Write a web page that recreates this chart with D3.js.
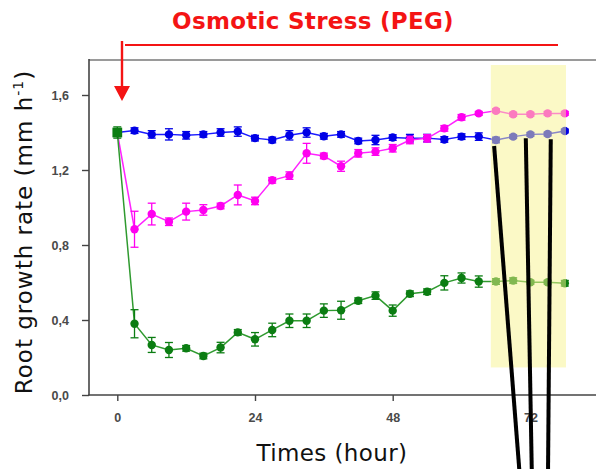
<!DOCTYPE html>
<html><head><meta charset="utf-8">
<script src="https://cdn.jsdelivr.net/npm/d3@7"></script>
<style>html,body{margin:0;padding:0;background:#fff;overflow:hidden}</style>
</head><body>
<svg id="chart" width="596" height="469"></svg>
<script>
// ---- data ----
const hours = [0,3,6,9,12,15,18,21,24,27,30,33,36,39,42,45,48,51,54,57,60,63,66,69,72,75,78];
const controlRate = [1.40,1.41,1.39,1.39,1.385,1.39,1.40,1.405,1.37,1.36,1.385,1.40,1.38,1.39,1.355,1.36,1.373,1.37,1.37,1.363,1.378,1.378,1.36,1.378,1.39,1.392,1.408];
const controlErr  = [0.02,0.015,0.02,0.03,0.02,0.015,0.02,0.025,0.015,0.015,0.025,0.025,0.015,0.015,0.015,0.025,0.015,0.02,0.02,0.015,0.015,0.02,0.015,0.01,0.01,0.01,0.01];
const mildRate = [1.40,0.884,0.965,0.924,0.978,0.987,1.008,1.067,1.035,1.145,1.17,1.289,1.275,1.22,1.289,1.298,1.316,1.36,1.369,1.422,1.481,1.502,1.516,1.497,1.497,1.502,1.502];
const mildErr  = [0.02,0.096,0.058,0.02,0.045,0.028,0.015,0.053,0.02,0.015,0.02,0.053,0.015,0.027,0.02,0.02,0.02,0.02,0.02,0.015,0.015,0.01,0.01,0.01,0.01,0.01,0.01];
const severeRate = [1.40,0.38,0.267,0.24,0.249,0.208,0.253,0.334,0.297,0.347,0.396,0.396,0.45,0.452,0.503,0.53,0.45,0.54,0.551,0.598,0.624,0.605,0.605,0.61,0.601,0.601,0.596];
const severeErr  = [0.03,0.075,0.04,0.04,0.015,0.015,0.028,0.015,0.036,0.036,0.036,0.036,0.036,0.048,0.015,0.02,0.03,0.015,0.015,0.038,0.027,0.03,0.015,0.015,0.01,0.01,0.015];
const yTickValues = [0,0.4,0.8,1.2,1.6];
const xTickValues = [0,24,48,72];
const titleText = "Osmotic Stress (PEG)";
const xTitle = "Times (hour)";
const yTitle = "Root growth rate (mm h";

// ---- drawing ----
const svg = d3.select("#chart");
const x = d3.scaleLinear().domain([0,72]).range([117.3,530.4]);
const y = d3.scaleLinear().domain([0,1.6]).range([395,95]);
const fontMain = "'Comic Sans MS','DejaVu Sans',sans-serif";

// frame
svg.append("line").attr("x1",89).attr("x2",596).attr("y1",60).attr("y2",60)
  .attr("stroke","#9a9a9a").attr("stroke-width",2);
svg.append("line").attr("x1",89).attr("x2",89).attr("y1",59).attr("y2",395.5)
  .attr("stroke","#444").attr("stroke-width",1.6);
svg.append("line").attr("x1",88.2).attr("x2",596).attr("y1",395).attr("y2",395)
  .attr("stroke","#444").attr("stroke-width",1.6);

// axes
const fmt = d => d3.format(".1f")(d).replace(".",",");
const yAxis = svg.append("g").attr("transform","translate(89,0)")
  .call(d3.axisLeft(y).tickValues(yTickValues).tickFormat(fmt).tickSize(7).tickPadding(13));
const xAxis = svg.append("g").attr("transform","translate(0,395)")
  .call(d3.axisBottom(x).tickValues(xTickValues).tickSize(6).tickPadding(12));
[yAxis,xAxis].forEach(g=>{
  g.select(".domain").remove();
  g.selectAll(".tick line").attr("stroke","#444").attr("stroke-width",1.4);
  g.selectAll(".tick text").attr("fill","#4a4a4a").attr("font-family","'Liberation Sans',Arial,sans-serif")
    .attr("font-size",12.5).attr("font-weight","bold");
});

// series
const series = [
  {vals:controlRate, err:controlErr, line:"#1a1aff", mark:"#0000e6"},
  {vals:mildRate, err:mildErr, line:"#ff22ff", mark:"#ff00f0"},
  {vals:severeRate, err:severeErr, line:"#2f9a2f", mark:"#0b7d12"}
];
const lineGen = d3.line().x(d=>x(d.t)).y(d=>y(d.v));
series.forEach((s,si)=>{
  const pts = hours.map((t,i)=>({t, v:s.vals[i], e:s.err[i]}));
  const g = svg.append("g");
  g.append("path").datum(pts).attr("d",lineGen).attr("fill","none")
    .attr("stroke",s.line).attr("stroke-width",1.5);
  const eb = g.selectAll(".eb").data(pts).enter().append("g").attr("stroke",s.mark).attr("stroke-width",1.3);
  eb.append("line").attr("x1",d=>x(d.t)).attr("x2",d=>x(d.t)).attr("y1",d=>y(d.v-d.e)).attr("y2",d=>y(d.v+d.e));
  eb.append("line").attr("x1",d=>x(d.t)-4).attr("x2",d=>x(d.t)+4).attr("y1",d=>y(d.v-d.e)).attr("y2",d=>y(d.v-d.e));
  eb.append("line").attr("x1",d=>x(d.t)-4).attr("x2",d=>x(d.t)+4).attr("y1",d=>y(d.v+d.e)).attr("y2",d=>y(d.v+d.e));
  g.selectAll(".pt").data(pts.slice(si===2?1:0)).enter().append("circle")
    .attr("cx",d=>x(d.t)).attr("cy",d=>y(d.v)).attr("r",4.2).attr("fill",s.mark);
  if(si===2){
    g.append("path").attr("d",d3.symbol(d3.symbolSquare,95)())
      .attr("transform",`translate(${x(pts[0].t)},${y(pts[0].v)})`).attr("fill",s.mark);
  }
});

// highlighted zone (translucent yellow over the last points)
svg.append("rect").attr("x",x(65.1)).attr("width",x(78.2)-x(65.1))
  .attr("y",y(1.76)).attr("height",y(0.147)-y(1.76))
  .attr("fill","#f8f38e").attr("opacity",0.5);

// black pointer lines
const pointers = [[65.68,1.328,70.12,-0.42],[71.2,1.369,72.25,-0.42],[75.55,1.364,75.07,-0.42]];
svg.selectAll(".ptr").data(pointers).enter().append("line")
  .attr("x1",d=>x(d[0])).attr("y1",d=>y(d[1])).attr("x2",d=>x(d[2])).attr("y2",d=>y(d[3]))
  .attr("stroke","#000").attr("stroke-width",4);

// red annotation
svg.append("text").attr("x",313).attr("y",29).attr("text-anchor","middle")
  .attr("font-family",fontMain).attr("font-weight","bold").attr("font-size",23)
  .attr("letter-spacing",0.3).attr("fill","#f41414").text(titleText);
svg.append("line").attr("x1",125).attr("x2",558).attr("y1",45).attr("y2",45)
  .attr("stroke","#f41414").attr("stroke-width",2.2);
svg.append("line").attr("x1",122).attr("x2",122).attr("y1",41).attr("y2",88)
  .attr("stroke","#f41414").attr("stroke-width",2.4);
svg.append("path").attr("d","M114,86 L130,86 L122,101 Z").attr("fill","#f41414");

// axis titles
svg.append("text").attr("x",332).attr("y",461).attr("text-anchor","middle")
  .attr("font-family",fontMain).attr("font-size",23).attr("letter-spacing",0.4)
  .attr("fill","#111").text(xTitle);
const yt = svg.append("text").attr("transform","translate(32,232) rotate(-90)")
  .attr("text-anchor","middle").attr("font-family",fontMain).attr("font-size",23)
  .attr("letter-spacing",1).attr("fill","#111");
yt.append("tspan").text(yTitle);
yt.append("tspan").attr("dy",-9).attr("font-size",14).text("-1");
yt.append("tspan").attr("dy",9).text(")");
</script>
</body></html>
